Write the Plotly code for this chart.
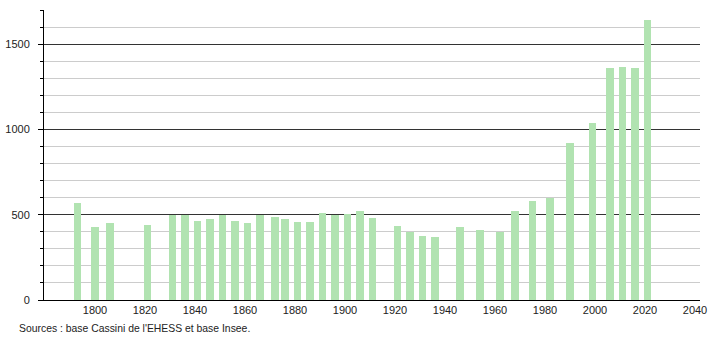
import plotly.graph_objects as go

years = [1793, 1800, 1806, 1821, 1831, 1836, 1841, 1846, 1851, 1856, 1861, 1866,
         1872, 1876, 1881, 1886, 1891, 1896, 1901, 1906, 1911, 1921, 1926, 1931,
         1936, 1946, 1954, 1962, 1968, 1975, 1982, 1990, 1999, 2006, 2011, 2016, 2021]
population = [569, 427, 451, 441, 500, 500, 463, 475, 500, 465, 451, 498,
              486, 473, 459, 459, 512, 498, 506, 520, 482, 435, 400, 376,
              371, 427, 412, 398, 524, 582, 596, 922, 1039, 1359, 1363, 1359, 1639]
x_ticks = [1800, 1820, 1840, 1860, 1880, 1900, 1920, 1940, 1960, 1980, 2000, 2020, 2040]
y_ticks = [0, 500, 1000, 1500]
source = "Sources : base Cassini de l'EHESS et base Insee."

W, H = 710, 340
L, R, T, B = 44, 10, 10, 40

fig = go.Figure()
fig.add_trace(go.Bar(x=years, y=population, width=3,
                     marker=dict(color="#b1e3b1", line=dict(width=0)),
                     hoverinfo="x+y"))

fig.update_layout(
    width=W, height=H,
    margin=dict(l=L, r=R, t=T, b=B, autoexpand=False),
    plot_bgcolor="white", paper_bgcolor="white",
    font=dict(family="Liberation Sans, Arial, sans-serif", size=11, color="#222"),
    showlegend=False,
    bargap=0,
    xaxis=dict(range=[1779.6, 2042], tickmode="array", tickvals=x_ticks,
               automargin=False,
               showgrid=False, zeroline=False, showline=True, linecolor="#000",
               linewidth=1, ticks="", tickfont=dict(size=11, color="#222")),
    yaxis=dict(range=[0, 1700], tickmode="array", tickvals=y_ticks,
               automargin=False,
               showgrid=True, gridcolor="#333", gridwidth=1,
               zeroline=False, showline=True, linecolor="#000", linewidth=1,
               ticks="outside", ticklen=5, tickcolor="#000", ticklabelstandoff=6,
               tickfont=dict(size=11, color="#222"),
               minor=dict(dtick=100, tick0=0, showgrid=True, gridcolor="#cccccc",
                          gridwidth=1, ticks="outside", ticklen=3, tickcolor="#000")),
)

fig.add_annotation(text=source, xref="paper", yref="paper",
                   x=(17 - L) / (W - L - R), y=-(328 - (H - B)) / (H - T - B),
                   xanchor="left", yanchor="middle", showarrow=False,
                   font=dict(size=10.4, color="#222"))

fig.write_html("out.html")
